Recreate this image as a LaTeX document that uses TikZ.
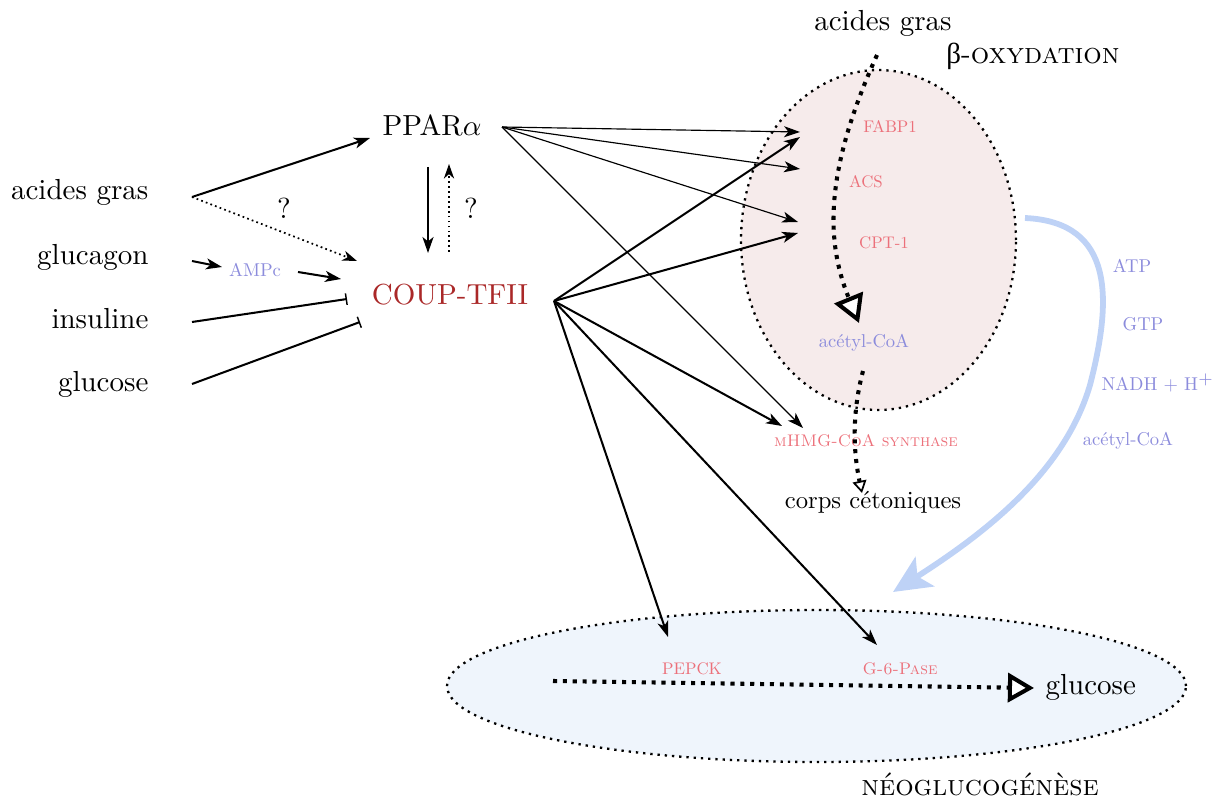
\documentclass[tikz,border=0pt]{standalone}
\usepackage{fontspec}
\newfontfamily\grk{Liberation Serif}
\newfontfamily\lmten{lmroman10-regular.otf}[SmallCapsFont=lmromancaps10-regular.otf]
\usetikzlibrary{arrows.meta}
\definecolor{labred}{RGB}{236,112,122}
\definecolor{labblue}{RGB}{140,140,220}
\definecolor{coupred}{RGB}{170,40,40}
\definecolor{pinkfill}{RGB}{246,235,235}
\definecolor{bluefill}{RGB}{239,245,252}
\definecolor{arrowblue}{RGB}{190,210,246}
\begin{document}
\begin{tikzpicture}[x=0.3448pt,y=-0.3448pt,
  lbl/.style={inner sep=0pt, font=\fontsize{10}{12}\selectfont},
  enz/.style={inner sep=0pt, text=labred, font=\lmten\fontsize{5.8}{7}\selectfont},
  met/.style={inner sep=0pt, text=labblue, font=\lmten\fontsize{6.4}{7}\selectfont},
  act/.style={line width=0.7pt, -{Stealth[length=5.5pt,width=3.8pt,inset=1.5pt]}},
  thinact/.style={line width=0.4pt, -{Stealth[length=5.5pt,width=3.8pt,inset=1.5pt]}},
  dotact/.style={line width=0.6pt, dash pattern=on 0.6pt off 1.1pt, -{Stealth[length=5pt,width=3.5pt,inset=1.5pt]}},
  inh/.style={line width=0.7pt, -{Bar[width=4pt,line width=0.5pt]}},
  flow/.style={line width=1.4pt, dash pattern=on 1.4pt off 2pt},
  region/.style={line width=0.8pt, dash pattern=on 0.8pt off 1.7pt}
]
\useasboundingbox (0,0) rectangle (1229,803);

% regions
\draw[region, fill=pinkfill] (878.5,240) ellipse [x radius=47.4pt, y radius=58.6pt];
\draw[region, fill=bluefill] (816.5,686) ellipse [x radius=127.4pt, y radius=26.2pt];

% left labels
\node[lbl, anchor=base east] (ag) at (149,200) {acides gras};
\node[lbl, anchor=base east] (glucagon) at (149,265) {glucagon};
\node[lbl, anchor=base east] (insuline) at (149,329) {insuline};
\node[lbl, anchor=base east] (glucoseL) at (149,392) {glucose};
\node[met] (ampc) at (255,270) {AMPc};
\node[lbl] (q1) at (284,208) {?};
\node[lbl] (q2) at (471,208) {?};

\node[lbl, anchor=base] (ppar) at (432,136) {PPAR$\alpha$};
\node[lbl, anchor=base, text=coupred] (coup) at (450,305) {COUP-TFII};

% beta-oxydation
\node[lbl, anchor=base] (agtop) at (883,31) {acides gras};
\node[lbl, anchor=base] (box) at (1033,64) {{\grk β}-\textsc{oxydation}};
\node[enz] (fabp) at (890,126) {FABP1};
\node[enz] (acs) at (866,182) {ACS};
\node[enz] (cpt) at (884,243) {CPT-1};
\node[met] (acoa) at (864,343) {acétyl-CoA};
\node[enz] (hmg) at (866,441) {\textsc{mHMG-CoA synthase}};
\node[inner sep=0pt, font=\lmten\fontsize{8.5}{10}\selectfont] (corps) at (873,502) {corps cétoniques};

\node[met] (atp) at (1132,266) {ATP};
\node[met] (gtp) at (1143,324) {GTP};
\node[met] (nadh) at (1158,383) {NADH + H$^{+}$};
\node[met] (acoa2) at (1128,441) {acétyl-CoA};

% neoglucogenese
\node[enz] (pepck) at (692,669) {PEPCK};
\node[enz] (g6p) at (900,669) {\textsc{G-6-Pase}};
\node[lbl, anchor=west] (glucoseB) at (1045,687) {glucose};
\node[lbl, anchor=base] (neo) at (980,795) {\textsc{néoglucogénèse}};

% coordinates
\coordinate (agR) at (192,197);
\coordinate (pparW) at (370,138);
\coordinate (coupNW) at (357,261);
\coordinate (glcR) at (192,261);
\coordinate (ampcW) at (222,267);
\coordinate (ampcE) at (298,272);
\coordinate (coupW) at (341,279);
\coordinate (insR) at (192,322);
\coordinate (insE) at (347,299);
\coordinate (gluR) at (192,384);
\coordinate (gluE) at (360,322);
\coordinate (pparS) at (428,167);
\coordinate (coupN) at (428,253);
\coordinate (coupN2) at (449,252);
\coordinate (pparS2) at (449,164);
\coordinate (pparE) at (502,127);
\coordinate (coupE) at (554,301);
\coordinate (tFabpA) at (800,132);
\coordinate (tFabpB) at (800,137);
\coordinate (tAcs) at (800,169);
\coordinate (tCptA) at (798,222);
\coordinate (tCptB) at (798,233);
\coordinate (tHmgA) at (803,428);
\coordinate (tHmgB) at (782,426);
\coordinate (tPepck) at (668,637);
\coordinate (tG6p) at (877,645);
\coordinate (fS) at (877,55);
\coordinate (fE) at (859,323);
\coordinate (kS) at (863,371);
\coordinate (kE) at (862,493);
\coordinate (nS) at (553,681);
\coordinate (nE) at (1034,688);
\coordinate (bS) at (1025,218);
\coordinate (bM) at (1090,385);
\coordinate (bE) at (893,592);

% left side
\draw[act] (agR) -- (pparW);
\draw[dotact] (agR) -- (coupNW);
\draw[act] (glcR) -- (ampcW);
\draw[act] (ampcE) -- (coupW);
\draw[inh] (insR) -- (insE);
\draw[inh] (gluR) -- (gluE);
\draw[act] (pparS) -- (coupN);
\draw[dotact] (coupN2) -- (pparS2);

% PPAR targets
\draw[thinact] (pparE) -- (tFabpA);
\draw[thinact] (pparE) -- (tAcs);
\draw[thinact] (pparE) -- (tCptA);
\draw[thinact] (pparE) -- (tHmgA);

% COUP targets
\draw[act] (coupE) -- (tFabpB);
\draw[act] (coupE) -- (tCptB);
\draw[act] (coupE) -- (tHmgB);
\draw[act] (coupE) -- (tPepck);
\draw[act] (coupE) -- (tG6p);

% flows
\draw[flow, -{Triangle[length=9.5pt,width=10.5pt,fill=white,line width=1.4pt]}] (fS) .. controls (825,170) and (825,240) .. (fE);
\draw[flow, -{Triangle[length=4.2pt,width=4.8pt,fill=white,line width=0.6pt]}] (kS) .. controls (850,420) and (855,460) .. (kE);
\draw[flow, -{Triangle[length=9pt,width=10pt,fill=white,line width=1.4pt]}] (nS) -- (nE);

% blue arrow
\draw[line width=2pt, arrowblue, -{Stealth[length=13pt,width=12pt,inset=3pt]}] (bS) .. controls (1115,222) and (1112,300) .. (bM) .. controls (1065,470) and (990,530) .. (bE);
\end{tikzpicture}
\end{document}
